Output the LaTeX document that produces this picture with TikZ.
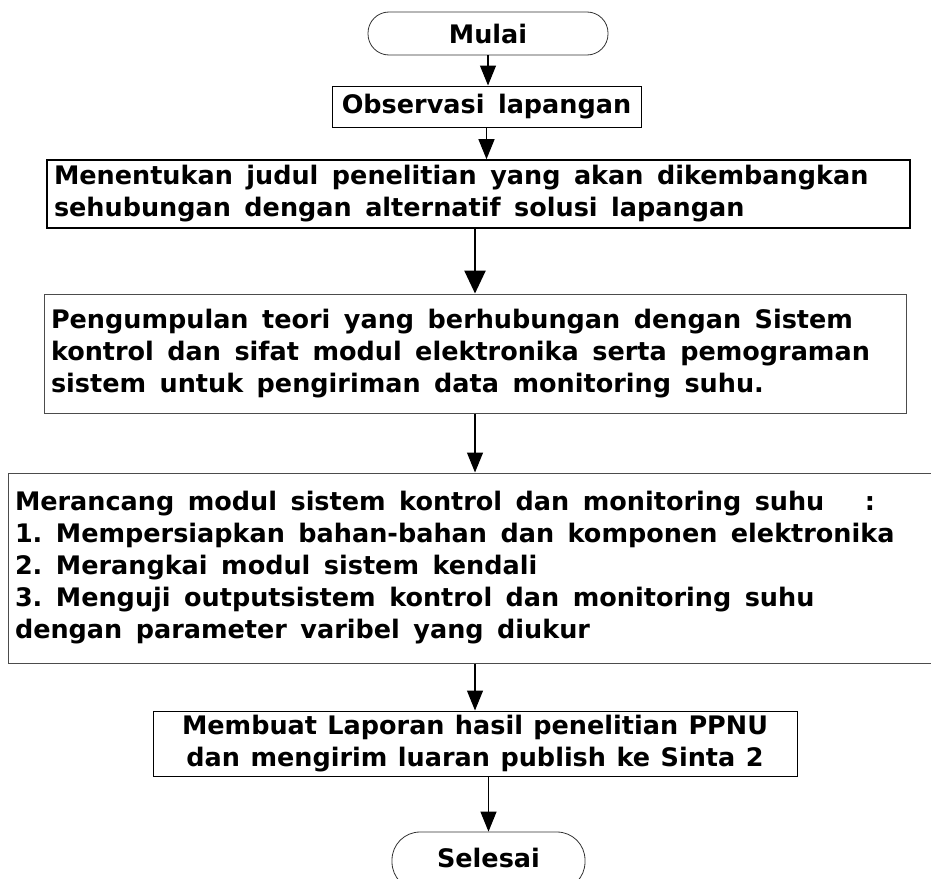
\documentclass[tikz,border=0pt]{standalone}
\usepackage{fontspec}
\setmainfont{DejaVu Sans}
\usetikzlibrary{arrows.meta}
\frenchspacing
\newcommand\chartfont{\fontsize{25.5}{32}\selectfont\bfseries}
\newcommand\chartspace{\spaceskip=13.5pt plus 3pt minus 2pt\relax}
\begin{document}
\begin{tikzpicture}[x=1pt,y=-1pt,font=\chartfont,execute at begin node=\chartspace,
  >={Triangle[length=20pt,width=16pt]}]
\tikzstyle{terminal}=[rectangle,draw=black!80,line width=0.8pt,inner sep=0pt]
\tikzstyle{process}=[rectangle,draw,line width=1pt,inner xsep=7pt,inner ysep=0pt]
\tikzstyle{grayProcess}=[process,draw=black!70]
\tikzstyle{flow}=[->,line width=1.2pt]
\useasboundingbox (0,0) rectangle (931,878);

%start and end
\node[terminal,rounded corners=21pt,minimum width=240pt,minimum height=43pt] (mulai) at (488,33.5) {Mulai};
\node[terminal,rounded corners=28pt,minimum width=193pt,minimum height=58pt] (selesai) at (488.5,861) {\raisebox{6pt}{Selesai}};

%process blocks
\node[process,minimum width=309pt,minimum height=41pt] (observasi) at (486.5,106.5) {Observasi lapangan};
\node[process,line width=1.6pt,text width=849pt,align=left,minimum height=68pt] (judul) at (478.5,194)
  {Menentukan judul penelitian yang akan dikembangkan\\sehubungan dengan alternatif solusi lapangan};
\node[grayProcess,text width=848pt,align=left,minimum height=119pt] (teori) at (475,353.5)
  {Pengumpulan teori yang berhubungan dengan Sistem\\kontrol dan sifat modul elektronika serta pemograman\\sistem untuk pengiriman data monitoring suhu.};
\node[grayProcess,text width=938pt,align=left,minimum height=190pt] (rancang) at (484,568)
  {Merancang modul sistem kontrol dan monitoring suhu\ \ \ :\\1. Mempersiapkan bahan-bahan dan komponen elektronika\\2. Merangkai modul sistem kendali\\3. Menguji outputsistem kontrol dan monitoring suhu\\dengan parameter varibel yang diukur};
\node[process,text width=630pt,align=center,minimum height=65pt,
  execute at begin node={\spaceskip=9.5pt plus 2pt minus 1pt\relax}] (laporan) at (475,743.5)
  {Membuat Laporan hasil penelitian PPNU\\dan mengirim luaran publish ke Sinta 2};

% connections
\draw[flow] (mulai.south) -- (mulai.south |- observasi.north);
\draw[flow] (observasi.south) -- (observasi.south |- judul.north);
\draw[flow,line width=2.6pt,>={Triangle[length=23pt,width=21pt]}] (teori.north |- judul.south) -- (teori.north);
\draw[flow] (teori.south) -- (teori.south |- rancang.north);
\draw[flow] (laporan.north |- rancang.south) -- (laporan.north);
\draw[flow] (selesai.north |- laporan.south) -- (selesai.north);

\end{tikzpicture}
\end{document}
